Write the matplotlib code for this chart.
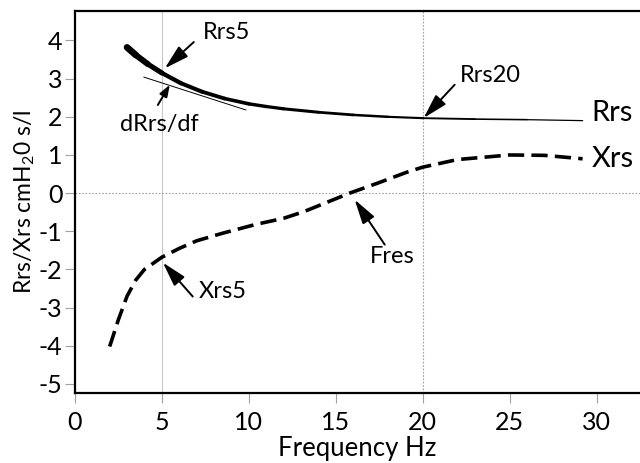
import numpy as np
import matplotlib.pyplot as plt
from matplotlib.collections import LineCollection

plt.rcParams['font.family'] = ['Lato', 'DejaVu Sans']
plt.rcParams['mathtext.fontset'] = 'custom'
plt.rcParams['mathtext.rm'] = 'Lato'
plt.rcParams['mathtext.it'] = 'Lato'
plt.rcParams['mathtext.sf'] = 'Lato'
plt.rcParams['axes.unicode_minus'] = False

# resistance Rrs
rrs_f = [3.0, 3.5, 4.2, 5.0, 6.1, 7.3, 8.6, 10.0, 11.0, 12.0, 14.0, 16.0, 18.0, 20.0, 23.0, 26.0, 29.2]
rrs_v = [3.82, 3.62, 3.38, 3.15, 2.88, 2.66, 2.48, 2.34, 2.27, 2.21, 2.12, 2.05, 2.00, 1.965, 1.94, 1.925, 1.90]

# reactance Xrs
xrs_f = [2.0, 2.5, 3.0, 3.5, 4.0, 5.0, 6.0, 7.0, 8.5, 10.4, 12.0, 13.2, 14.5, 15.8, 17.4, 19.1, 20.0, 22.0, 25.0, 27.0, 29.2]
xrs_v = [-4.02, -3.32, -2.70, -2.28, -2.00, -1.68, -1.45, -1.25, -1.05, -0.82, -0.66, -0.48, -0.24, 0.0, 0.26, 0.55, 0.68, 0.88, 1.0, 0.99, 0.90]

# tangent dRrs/df at low frequency
tan_f = [3.97, 9.83]
tan_v = [3.04, 2.18]

# annotations: label, text pos, arrow tail, arrow tip
notes = [
    ("Rrs5", (7.36, 4.22), (6.84, 3.96), (5.17, 3.27)),
    ("dRrs/df", (2.59, 1.81), (4.77, 2.31), (5.46, 2.84)),
    ("Rrs20", (22.13, 3.07), (21.84, 2.84), (20.06, 1.97)),
    ("Fres", (16.95, -1.67), (17.82, -1.35), (16.09, -0.17)),
    ("Xrs5", (7.13, -2.58), (6.78, -2.71), (5.06, -1.82)),
]

fig = plt.figure(figsize=(6.4, 4.63), dpi=100)
ax = fig.add_axes([0.117, 0.151, 0.883, 0.825])

ax.set_xlim(0, 32.5)
ax.set_ylim(-5.24, 4.77)

# reference lines
ax.axvline(5, color='#c8c8c8', lw=0.8, zorder=0)
ax.axvline(20, color='#a0a0a0', lw=0.8, ls=(0, (1.5, 1.5)), zorder=0)
ax.axhline(0, color='#a0a0a0', lw=0.8, ls=(0, (1.5, 1.5)), zorder=0)

# Rrs: tapering line
pts = np.column_stack([rrs_f, rrs_v])
segs = np.stack([pts[:-1], pts[1:]], axis=1)
widths = [4.8, 4.3, 3.7, 3.1, 2.9, 2.75, 2.6, 2.45, 2.35, 2.2, 2.0, 1.8, 1.55, 1.35, 1.15, 0.9]
lc = LineCollection(segs, linewidths=widths, colors='black', capstyle='round', joinstyle='round')
ax.add_collection(lc)

ax.plot(tan_f, tan_v, color='black', lw=0.7)

ax.plot(xrs_f, xrs_v, color='black', lw=2.6, dashes=(4.5, 2))

for label, tpos, tail, tip in notes:
    if label == "dRrs/df":
        style = '-|>,head_length=0.7,head_width=0.25'
    else:
        style = '-|>,head_length=1.5,head_width=0.42'
    ax.annotate('', xy=tip, xytext=tail,
                arrowprops=dict(arrowstyle=style, mutation_scale=10,
                                color='black', lw=1.4, shrinkA=0, shrinkB=0))
    ax.text(tpos[0], tpos[1], label, fontsize=17, ha='left', va='center')

ax.text(29.71, 2.10, "Rrs", fontsize=21, ha='left', va='center')
ax.text(29.71, 0.90, "Xrs", fontsize=21, ha='left', va='center')

ax.set_xticks([0, 5, 10, 15, 20, 25, 30])
ax.set_yticks([4, 3, 2, 1, 0, -1, -2, -3, -4, -5])
ax.tick_params(direction='out', length=7, width=0.8, color='#a0a0a0', labelsize=18)
ax.tick_params(axis='y', pad=2)
ax.tick_params(axis='x', pad=6)
for s in ['left', 'bottom', 'top']:
    ax.spines[s].set_linewidth(1.6)
ax.spines['right'].set_visible(False)

ax.set_xlabel("Frequency Hz", fontsize=18.5, labelpad=1.5)
ax.set_ylabel(r"Rrs/Xrs cmH$_2$0 s/l", fontsize=16.5, labelpad=1)

fig.savefig("out.png", dpi=100)
